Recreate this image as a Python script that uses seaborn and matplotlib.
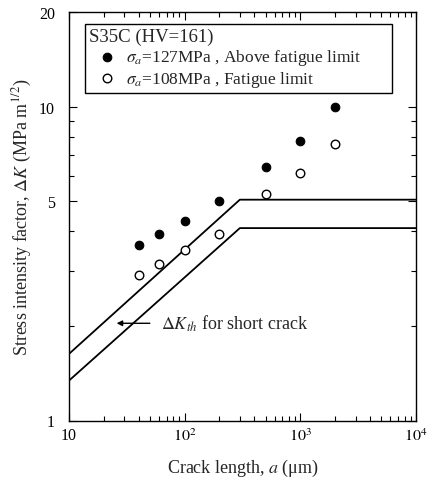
import matplotlib
matplotlib.use("Agg")
import matplotlib.pyplot as plt
import seaborn as sns
import pandas as pd
from matplotlib.ticker import FixedLocator, FixedFormatter, NullFormatter

# ---------------- data ----------------
crack_length = [40, 60, 100, 200, 500, 1000, 2000]          # a (um)
dk_above = [3.62, 3.94, 4.33, 5.01, 6.40, 7.75, 9.95]        # sigma_a = 127 MPa
dk_fatigue = [2.91, 3.15, 3.50, 3.93, 5.26, 6.14, 7.60]      # sigma_a = 108 MPa

line_a = [10, 300, 10000]
dk_th_upper = [1.63, 5.05, 5.05]
dk_th_lower = [1.34, 4.10, 4.10]

label_above = r"$\sigma_a$=127MPa , Above fatigue limit"
label_fatigue = r"$\sigma_a$=108MPa , Fatigue limit"
legend_title = "S35C (HV=161)"

x_major = [10, 100, 1000, 10000]
x_major_labels = ["10", r"$10^2$", r"$10^3$", r"$10^4$"]
y_major = [1, 5, 10, 20]
y_major_labels = ["1", "5", "10", "20"]
y_minor = [2, 3, 4, 6, 7, 8, 9]

# annotation anchor (data coords)
arrow_tip = (25.8, 2.04)
text_pos = (63.0, 2.04)

# ---------------- style ----------------
sns.set_theme(style="ticks")
plt.rcParams["font.family"] = ["Liberation Serif", "DejaVu Serif"]
plt.rcParams["mathtext.fontset"] = "stix"

fig = plt.figure(figsize=(4.32, 4.81), dpi=100)
W, H = 432, 481
ax = fig.add_axes([69 / W, 1 - 421.5 / H, (416 - 69) / W, (421.5 - 13) / H])

df = pd.DataFrame({"a": crack_length, "above": dk_above, "fatigue": dk_fatigue})

sns.lineplot(x=line_a, y=dk_th_upper, ax=ax, color="black", lw=1.3,
             estimator=None, sort=False, legend=False)
sns.lineplot(x=line_a, y=dk_th_lower, ax=ax, color="black", lw=1.3,
             estimator=None, sort=False, legend=False)

sns.scatterplot(data=df, x="a", y="above", ax=ax, s=38, color="black",
                edgecolor="black", linewidth=0.8, label=label_above, zorder=3)
sns.scatterplot(data=df, x="a", y="fatigue", ax=ax, s=38, color="white",
                edgecolor="black", linewidth=1.0, label=label_fatigue, zorder=3)

ax.set_xscale("log")
ax.set_yscale("log")
ax.set_xlim(10, 10000)
ax.set_ylim(1, 20)

ax.xaxis.set_major_locator(FixedLocator(x_major))
ax.xaxis.set_major_formatter(FixedFormatter(x_major_labels))
x_minor = [m * d for d in (10, 100, 1000) for m in range(2, 10)]
ax.xaxis.set_minor_locator(FixedLocator(x_minor))
ax.xaxis.set_minor_formatter(NullFormatter())

ax.yaxis.set_major_locator(FixedLocator(y_major))
ax.yaxis.set_major_formatter(FixedFormatter(y_major_labels))
ax.yaxis.set_minor_locator(FixedLocator(y_minor))
ax.yaxis.set_minor_formatter(NullFormatter())

ax.tick_params(which="both", direction="in", top=True, right=True,
               color="black", labelcolor="black", width=0.8)
ax.tick_params(which="major", length=6, labelsize=11.5)
ax.tick_params(which="minor", length=3.5)
ax.tick_params(axis="y", which="major", pad=10)
ax.tick_params(axis="x", which="major", pad=5)

for sp in ax.spines.values():
    sp.set_linewidth(1.0)
    sp.set_color("black")

ax.set_xlabel(r"Crack length, $a$ (μm)", fontsize=13, labelpad=9)
ax.set_ylabel(r"Stress intensity factor, $\mathit{\Delta}K$ (MPa m$^{1/2}$)",
              fontsize=13, labelpad=4)

ax.annotate(r"$\mathit{\Delta}K_{th}$ for short crack", xy=arrow_tip, xytext=text_pos,
            xycoords="data", textcoords="data", ha="left", va="center", fontsize=13,
            arrowprops=dict(arrowstyle="-|>", color="black", lw=1.0,
                            mutation_scale=8, shrinkA=6, shrinkB=0))

leg = ax.legend(title=legend_title, loc="upper left",
                bbox_to_anchor=(0.046, 0.794, 0.885, 0.177), mode="expand",
                frameon=True, fancybox=False, edgecolor="black", framealpha=1,
                borderpad=0.25, borderaxespad=0, alignment="left",
                fontsize=12.5, title_fontsize=13.5, handlelength=2.0,
                handletextpad=0.1, labelspacing=0.1, markerscale=1.0)
leg.get_frame().set_linewidth(1.0)

fig.savefig("out.png", dpi=100)
